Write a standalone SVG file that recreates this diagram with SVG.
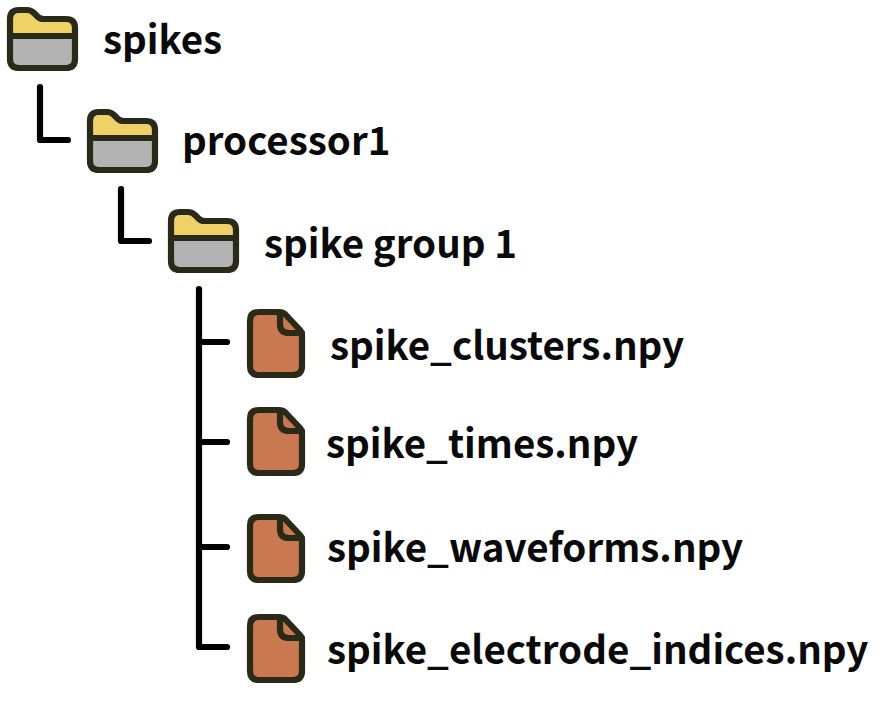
<svg xmlns="http://www.w3.org/2000/svg" width="896" height="718" viewBox="0 0 896 718">
<style>
text{font-family:"Noto Sans CJK SC","Noto Sans",sans-serif;font-weight:700;font-size:38.5px;fill:#0a0a0a}
.s{fill:none;stroke:#2a2a18;stroke-width:6.2;stroke-linejoin:round;stroke-linecap:round}
.c{fill:none;stroke:#000;stroke-width:6.2;stroke-linecap:round;stroke-linejoin:round}
</style>
<defs>
<g id="folder">
<path d="M10 36V19Q10 10 19 10H27Q31 10 34 13L38 17Q40 19 44 19H66Q75 19 75 28V36Z" fill="#f0d168"/>
<path d="M10 36H75V59Q75 68 66 68H19Q10 68 10 59Z" fill="#b3b3b3"/>
<path class="s" d="M10 36V19Q10 10 19 10H27Q31 10 34 13L38 17Q40 19 44 19H66Q75 19 75 28V59Q75 68 66 68H19Q10 68 10 59ZM10 36H75"/>
</g>
<g id="file">
<path d="M0 -9Q0 -18 9 -18H30Q33 -18 35 -16L50 0Q52 2 52 5V36Q52 45 43 45H9Q0 45 0 36Z" fill="#c97850"/>
<path class="s" d="M0 -9Q0 -18 9 -18H30Q33 -18 35 -16L50 0Q52 2 52 5V36Q52 45 43 45H9Q0 45 0 36ZM30 -18V-6Q30 3 39 3H52"/>
</g>
</defs>
<g id="connectors">
<path class="c" d="M40 87V140H68"/>
<path class="c" d="M121 189V241H149"/>
<path class="c" d="M199 289V647H227M199 342H227M199 442H227M199 547H227"/>
</g>
<g id="node-spikes"><use href="#folder"/><text x="103" y="54">spikes</text></g>
<g id="node-processor1"><use href="#folder" x="80" y="102"/><text x="182" y="155">processor1</text></g>
<g id="node-group"><use href="#folder" x="161" y="202"/><text x="264" y="258">spike group 1</text></g>
<g id="node-clusters"><use href="#file" x="250" y="330"/><text x="330" y="360">spike_clusters.npy</text></g>
<g id="node-times"><use href="#file" x="250" y="428"/><text x="326" y="458">spike_times.npy</text></g>
<g id="node-waveforms"><use href="#file" x="250" y="535"/><text x="327" y="562">spike_waveforms.npy</text></g>
<g id="node-indices"><use href="#file" x="250" y="635"/><text x="327" y="664">spike_electrode_indices.npy</text></g>
</svg>
